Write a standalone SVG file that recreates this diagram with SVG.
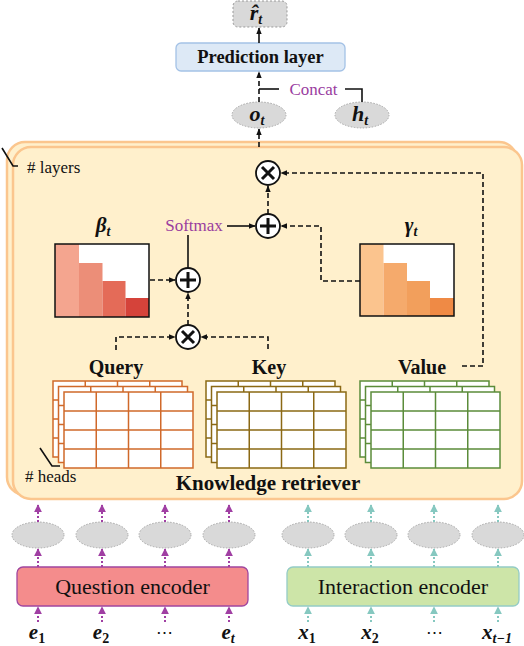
<svg xmlns="http://www.w3.org/2000/svg" xmlns:xlink="http://www.w3.org/1999/xlink" width="524" height="646" viewBox="0 0 524 646">
<style>
text{font-family:"Liberation Serif","DejaVu Serif",serif;fill:#111}
.b{font-weight:bold}
.m{font-weight:bold;font-style:italic}
.sub{font-size:14px}
.pur{fill:#9a3d9f}
.ln{fill:none;stroke:#111;stroke-width:1.6}
.dash{stroke-dasharray:5,3}
.op{fill:#fff;stroke:#111;stroke-width:1.8}
.sym{stroke:#111;stroke-width:3;stroke-linecap:butt}
.ell{fill:#d9d9d9;stroke:#a8a8a8;stroke-width:1;stroke-dasharray:1.5,1.5}
.pa{fill:none;stroke:#a03fa3;stroke-width:2;stroke-dasharray:2,2}
.ta{fill:none;stroke:#86c8c0;stroke-width:2;stroke-dasharray:2,2}
.kr{fill:#fff0cc;stroke:#fbc68e;stroke-width:2.5}
</style>
<defs>
<marker id="ab" viewBox="0 0 10 10" refX="9" refY="5" markerUnits="userSpaceOnUse" markerWidth="7" markerHeight="7" orient="auto"><path d="M0,1L10,5L0,9z" fill="#111"/></marker>
<marker id="ap" viewBox="0 0 10 10" refX="9" refY="5" markerUnits="userSpaceOnUse" markerWidth="8" markerHeight="8" orient="auto"><path d="M0,0L10,5L0,10z" fill="#a03fa3"/></marker>
<marker id="at" viewBox="0 0 10 10" refX="9" refY="5" markerUnits="userSpaceOnUse" markerWidth="8" markerHeight="8" orient="auto"><path d="M0,0L10,5L0,10z" fill="#86c8c0"/></marker>
<g id="grid">
<rect x="0" y="0" width="129" height="76" fill="#fff" stroke-width="1.5"/>
<path d="M32.25,0V76M64.5,0V76M96.75,0V76M0,19H129M0,38H129M0,57H129" fill="none" stroke-width="1.5"/>
</g>
</defs>

<g id="knowledge_retriever">
<rect class="kr" x="7" y="142" width="510" height="353" rx="18"/>
<rect class="kr" x="13" y="147" width="509" height="352" rx="18"/>
<text class="b" x="268" y="490" font-size="21" text-anchor="middle">Knowledge retriever</text>
<polyline class="ln" points="2,148 13,166 18,166" stroke-width="1.2"/>
<text x="27" y="173" font-size="17"># layers</text>
<polyline class="ln" points="40,448 52,466 60,466" stroke-width="1.2"/>
<text x="25" y="482" font-size="17"># heads</text>
</g>

<g id="r_hat">
<rect x="233" y="1" width="54" height="26" rx="5" fill="#d9d9d9" stroke="#999" stroke-width="1" stroke-dasharray="2,2"/>
<text class="m" x="256" y="20" font-size="22" text-anchor="middle">r&#770;<tspan class="sub" dy="4">t</tspan></text>
</g>

<g id="prediction_layer">
<rect x="176" y="43" width="169" height="28" rx="5" fill="#dde9f6" stroke="#a4c2e6" stroke-width="1.3"/>
<text class="b" x="260.5" y="63" font-size="18.5" text-anchor="middle">Prediction layer</text>
</g>

<g id="o_t">
<ellipse class="ell" cx="259" cy="115" rx="27" ry="13"/>
<text class="m" x="257" y="121" font-size="22" text-anchor="middle">o<tspan class="sub" dy="4">t</tspan></text>
</g>
<g id="h_t">
<ellipse class="ell" cx="362" cy="115" rx="27" ry="13"/>
<text class="m" x="360" y="121" font-size="22" text-anchor="middle">h<tspan class="sub" dy="4">t</tspan></text>
</g>
<text class="pur" x="313.5" y="95" font-size="17" text-anchor="middle">Concat</text>

<g id="beta">
<rect x="55" y="244" width="94" height="73" fill="#fff"/>
<rect x="55" y="244" width="24" height="73" fill="#f4a58f"/>
<rect x="79" y="263" width="23.5" height="54" fill="#ec8e78"/>
<rect x="102.5" y="281" width="23" height="36" fill="#e46b58"/>
<rect x="125.5" y="298" width="23.5" height="19" fill="#d5433a"/>
<rect x="55" y="244" width="94" height="73" fill="none" stroke="#111" stroke-width="1.5"/>
<text class="m" x="103" y="232" font-size="21" text-anchor="middle">β<tspan class="sub" dy="4">t</tspan></text>
</g>

<g id="gamma">
<rect x="360" y="244" width="94" height="72" fill="#fff"/>
<rect x="360" y="244" width="23.5" height="72" fill="#fbc48e"/>
<rect x="383.5" y="263" width="23.5" height="53" fill="#f5aa6c"/>
<rect x="407" y="281" width="23" height="35" fill="#f29f5c"/>
<rect x="430" y="298" width="24" height="18" fill="#ef8a45"/>
<rect x="360" y="244" width="94" height="72" fill="none" stroke="#111" stroke-width="1.5"/>
<text class="m" x="411" y="232" font-size="21" text-anchor="middle">γ<tspan class="sub" dy="4">t</tspan></text>
</g>

<text class="pur" x="194" y="231" font-size="17" text-anchor="middle">Softmax</text>

<g id="mult_top">
<circle class="op" cx="268" cy="173" r="12"/>
<path class="sym" d="M262,167L274,179M274,167L262,179"/>
</g>
<g id="add_top">
<circle class="op" cx="268" cy="226" r="12"/>
<path class="sym" d="M268,218V234M260,226H276"/>
</g>
<g id="add_left">
<circle class="op" cx="188" cy="280" r="12"/>
<path class="sym" d="M188,272V288M180,280H196"/>
</g>
<g id="mult_left">
<circle class="op" cx="188" cy="337" r="12"/>
<path class="sym" d="M182,331L194,343M194,331L182,343"/>
</g>

<g id="query">
<text class="b" x="116" y="374" font-size="20" text-anchor="middle">Query</text>
<g stroke="#d0692a"><use xlink:href="#grid" x="53" y="381"/><use xlink:href="#grid" x="58.5" y="386.5"/><use xlink:href="#grid" x="64" y="392"/></g>
</g>
<g id="key">
<text class="b" x="269" y="374" font-size="20" text-anchor="middle">Key</text>
<g stroke="#8b6914"><use xlink:href="#grid" x="206" y="381"/><use xlink:href="#grid" x="211.5" y="386.5"/><use xlink:href="#grid" x="217" y="392"/></g>
</g>
<g id="value">
<text class="b" x="422" y="374" font-size="20" text-anchor="middle">Value</text>
<g stroke="#5b8c3a"><use xlink:href="#grid" x="360" y="381"/><use xlink:href="#grid" x="365.5" y="386.5"/><use xlink:href="#grid" x="371" y="392"/></g>
</g>

<g id="question_encoder">
<rect x="17" y="567" width="231" height="39" rx="6" fill="#f48c8c" stroke="#a0469f" stroke-width="1.3"/>
<text x="132.5" y="594" font-size="22" text-anchor="middle">Question encoder</text>
</g>
<g id="interaction_encoder">
<rect x="287" y="567" width="232" height="39" rx="6" fill="#cde5a8" stroke="#94ccc6" stroke-width="1.3"/>
<text x="403" y="594" font-size="22" text-anchor="middle">Interaction encoder</text>
</g>

<g id="q_embeddings">
<ellipse class="ell" cx="38" cy="535" rx="26" ry="13"/>
<ellipse class="ell" cx="102" cy="535" rx="26" ry="13"/>
<ellipse class="ell" cx="165" cy="535" rx="26" ry="13"/>
<ellipse class="ell" cx="229" cy="535" rx="26" ry="13"/>
</g>
<g id="i_embeddings">
<ellipse class="ell" cx="308" cy="535" rx="26" ry="13"/>
<ellipse class="ell" cx="371" cy="535" rx="26" ry="13"/>
<ellipse class="ell" cx="434" cy="535" rx="26" ry="13"/>
<ellipse class="ell" cx="498" cy="535" rx="26" ry="13"/>
</g>

<g id="inputs">
<text class="m" x="37" y="639" font-size="21" text-anchor="middle">e<tspan class="sub" dy="4" font-style="normal">1</tspan></text>
<text class="m" x="101" y="639" font-size="21" text-anchor="middle">e<tspan class="sub" dy="4" font-style="normal">2</tspan></text>
<text x="164" y="638" font-size="17" text-anchor="middle">⋯</text>
<text class="m" x="228" y="639" font-size="21" text-anchor="middle">e<tspan class="sub" dy="4">t</tspan></text>
<text class="m" x="307" y="639" font-size="21" text-anchor="middle">x<tspan class="sub" dy="4" font-style="normal">1</tspan></text>
<text class="m" x="370" y="639" font-size="21" text-anchor="middle">x<tspan class="sub" dy="4" font-style="normal">2</tspan></text>
<text x="434" y="638" font-size="17" text-anchor="middle">⋯</text>
<text class="m" x="497" y="639" font-size="21" text-anchor="middle">x<tspan class="sub" dy="4">t−1</tspan></text>
</g>

<g id="connectors">
<line class="ln" x1="259" y1="43" x2="259" y2="28" marker-end="url(#ab)"/>
<line class="ln dash" x1="259" y1="102" x2="259" y2="72" marker-end="url(#ab)"/>
<polyline class="ln" points="259,89 279,89"/>
<polyline class="ln" points="345,89 362,89 362,102"/>
<line class="ln dash" x1="259" y1="147" x2="259" y2="129" marker-end="url(#ab)"/>
<line class="ln dash" x1="268" y1="214" x2="268" y2="186" marker-end="url(#ab)"/>
<line class="ln" x1="227" y1="226" x2="255" y2="226" marker-end="url(#ab)"/>
<line class="ln" x1="188" y1="268" x2="188" y2="235"/>
<line class="ln dash" x1="150" y1="280" x2="175" y2="280" marker-end="url(#ab)"/>
<line class="ln dash" x1="188" y1="325" x2="188" y2="293" marker-end="url(#ab)"/>
<polyline class="ln dash" points="116,350 116,337 175,337" marker-end="url(#ab)"/>
<polyline class="ln dash" points="268,349 268,337 201,337" marker-end="url(#ab)"/>
<polyline class="ln dash" points="360,281 321,281 321,226 281,226" marker-end="url(#ab)"/>
<polyline class="ln dash" points="462,366 483,366 483,173 281,173" marker-end="url(#ab)"/>
<g>
<line class="pa" x1="38" y1="522" x2="38" y2="505" marker-end="url(#ap)"/>
<line class="pa" x1="102" y1="522" x2="102" y2="505" marker-end="url(#ap)"/>
<line class="pa" x1="165" y1="522" x2="165" y2="505" marker-end="url(#ap)"/>
<line class="pa" x1="229" y1="522" x2="229" y2="505" marker-end="url(#ap)"/>
<line class="pa" x1="38" y1="567" x2="38" y2="549" marker-end="url(#ap)"/>
<line class="pa" x1="102" y1="567" x2="102" y2="549" marker-end="url(#ap)"/>
<line class="pa" x1="165" y1="567" x2="165" y2="549" marker-end="url(#ap)"/>
<line class="pa" x1="229" y1="567" x2="229" y2="549" marker-end="url(#ap)"/>
<line class="pa" x1="38" y1="622" x2="38" y2="607" marker-end="url(#ap)"/>
<line class="pa" x1="102" y1="622" x2="102" y2="607" marker-end="url(#ap)"/>
<line class="pa" x1="165" y1="622" x2="165" y2="607" marker-end="url(#ap)"/>
<line class="pa" x1="229" y1="622" x2="229" y2="607" marker-end="url(#ap)"/>
</g>
<g>
<line class="ta" x1="308" y1="522" x2="308" y2="505" marker-end="url(#at)"/>
<line class="ta" x1="371" y1="522" x2="371" y2="505" marker-end="url(#at)"/>
<line class="ta" x1="434" y1="522" x2="434" y2="505" marker-end="url(#at)"/>
<line class="ta" x1="498" y1="522" x2="498" y2="505" marker-end="url(#at)"/>
<line class="ta" x1="308" y1="567" x2="308" y2="549" marker-end="url(#at)"/>
<line class="ta" x1="371" y1="567" x2="371" y2="549" marker-end="url(#at)"/>
<line class="ta" x1="434" y1="567" x2="434" y2="549" marker-end="url(#at)"/>
<line class="ta" x1="498" y1="567" x2="498" y2="549" marker-end="url(#at)"/>
<line class="ta" x1="308" y1="622" x2="308" y2="607" marker-end="url(#at)"/>
<line class="ta" x1="371" y1="622" x2="371" y2="607" marker-end="url(#at)"/>
<line class="ta" x1="434" y1="622" x2="434" y2="607" marker-end="url(#at)"/>
<line class="ta" x1="498" y1="622" x2="498" y2="607" marker-end="url(#at)"/>
</g>
</g>
</svg>
